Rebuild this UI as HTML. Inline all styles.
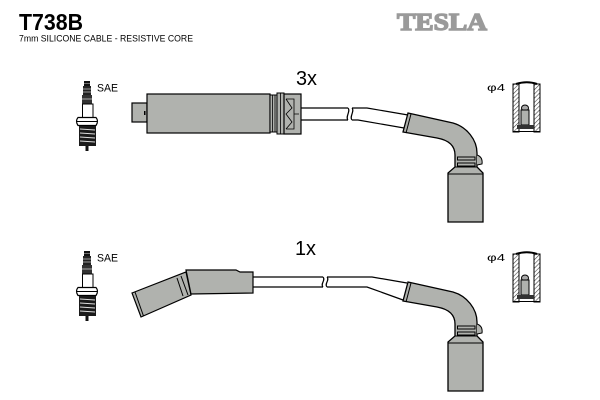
<!DOCTYPE html>
<html><head><meta charset="utf-8"><style>html,body{margin:0;padding:0;background:#fff;width:600px;height:400px;overflow:hidden}</style></head><body>
<svg width="600" height="400" viewBox="0 0 600 400" xmlns="http://www.w3.org/2000/svg">
<defs>
<pattern id="h" width="3" height="3" patternUnits="userSpaceOnUse" patternTransform="rotate(45)"><rect width="3" height="3" fill="#fff"/><line x1="0" y1="0" x2="0" y2="3" stroke="#444" stroke-width="1.2"/></pattern>
<g id="plug">
  <rect x="84" y="81" width="6" height="5" fill="#111"/>
  <line x1="84" y1="83.5" x2="90" y2="83.5" stroke="#888" stroke-width="0.8"/>
  <rect x="83" y="86" width="8" height="9" fill="#222"/>
  <line x1="83" y1="89" x2="91" y2="89" stroke="#bbb" stroke-width="0.8"/>
  <line x1="83" y1="92" x2="91" y2="92" stroke="#bbb" stroke-width="0.8"/>
  <rect x="82" y="95" width="10" height="9" fill="#333"/>
  <line x1="82" y1="99" x2="92" y2="99" stroke="#ccc" stroke-width="0.8"/>
  <rect x="82.5" y="104" width="10.5" height="13.5" fill="#fff" stroke="#000" stroke-width="1"/>
  <path d="M78,117.5 L96,117.5 Q99,121 96,125.5 L78,125.5 Q75,121 78,117.5 Z" fill="#fff" stroke="#000" stroke-width="1.2"/>
  <line x1="77" y1="121.5" x2="97" y2="121.5" stroke="#000" stroke-width="1"/>
  <rect x="79" y="126" width="17" height="20" fill="#1a1a1a"/>
  <line x1="80" y1="129" x2="95" y2="130" stroke="#ddd" stroke-width="0.9"/>
  <line x1="80" y1="133" x2="95" y2="134" stroke="#ddd" stroke-width="0.9"/>
  <line x1="80" y1="137" x2="95" y2="138" stroke="#ddd" stroke-width="0.9"/>
  <line x1="80" y1="141" x2="95" y2="142" stroke="#ddd" stroke-width="0.9"/>
  <rect x="85.5" y="146" width="3" height="5" fill="#111"/>
</g>
<g id="term">
  <rect x="513" y="84" width="6" height="48" fill="url(#h)" stroke="#000" stroke-width="1"/>
  <rect x="534" y="84" width="6" height="48" fill="url(#h)" stroke="#000" stroke-width="1"/>
  <path d="M516,84 Q527,80.5 537,84" fill="none" stroke="#000" stroke-width="2"/>
  <ellipse cx="525" cy="108" rx="3.5" ry="3" fill="#aaa" stroke="#000" stroke-width="1"/>
  <rect x="521" y="110" width="8" height="15" fill="#b0b2ae" stroke="#000" stroke-width="1"/>
  <rect x="517" y="125" width="17" height="4" fill="#333"/>
  <line x1="513" y1="131.5" x2="540" y2="131.5" stroke="#000" stroke-width="1"/>
</g>
<g id="rboot">
  <path d="M408,113 L453,123 C467,127 477,140 477,153 L477,167 L483,173 L483,222 L448,222 L448,173 L455,167 L455,155 C455,145 448,140 437,138 L403,132 Z" fill="#b0b2ae" stroke="#000" stroke-width="1.3"/>
  <line x1="411" y1="114" x2="406" y2="133" stroke="#000" stroke-width="1"/>
  <line x1="448" y1="174" x2="483" y2="174" stroke="#000" stroke-width="1"/>
  <line x1="455" y1="167" x2="477" y2="167" stroke="#000" stroke-width="1"/>
  <path d="M477,155 Q483,157 482,164 L477,165" fill="#b0b2ae" stroke="#000" stroke-width="1"/>
  <rect x="457.5" y="157" width="17.5" height="3" fill="none" stroke="#000" stroke-width="1"/>
  <rect x="457.5" y="163" width="17.5" height="3" fill="none" stroke="#000" stroke-width="1"/>
</g>
</defs>

<text x="19" y="30" font-family="Liberation Sans, sans-serif" font-weight="bold" font-size="23" textLength="64" lengthAdjust="spacingAndGlyphs">T738B</text>
<text x="19" y="41.5" font-family="Liberation Sans, sans-serif" font-size="9.5" textLength="174" lengthAdjust="spacingAndGlyphs">7mm SILICONE CABLE - RESISTIVE CORE</text>
<text x="397" y="30" font-family="Liberation Serif, serif" font-weight="bold" font-size="24" fill="#9a9a9a" stroke="#9a9a9a" stroke-width="1.4" textLength="90" lengthAdjust="spacingAndGlyphs">TESLA</text>

<!-- top set -->
<use href="#plug"/>
<text x="97" y="91.5" font-family="Liberation Sans, sans-serif" font-size="11" textLength="21" lengthAdjust="spacingAndGlyphs">SAE</text>
<text x="296" y="85" font-family="Liberation Sans, sans-serif" font-size="20" textLength="21" lengthAdjust="spacingAndGlyphs">3x</text>

<rect x="132" y="103" width="15" height="19" fill="#b0b2ae" stroke="#000" stroke-width="1.2"/>
<rect x="147" y="94" width="123" height="39" fill="#b0b2ae" stroke="#000" stroke-width="1.2"/>
<rect x="144" y="111" width="1.5" height="4" fill="#000"/>
<rect x="270" y="95" width="7" height="37" fill="#b0b2ae" stroke="#000" stroke-width="1"/>
<line x1="272.5" y1="95" x2="272.5" y2="132" stroke="#000" stroke-width="0.8"/>
<line x1="275" y1="95" x2="275" y2="132" stroke="#000" stroke-width="0.8"/>
<rect x="277" y="93" width="7" height="41" fill="#b0b2ae" stroke="#000" stroke-width="1"/>
<line x1="280.5" y1="93" x2="280.5" y2="134" stroke="#000" stroke-width="0.8"/>
<rect x="284" y="94" width="17" height="40" fill="#b0b2ae" stroke="#000" stroke-width="1.2"/>
<path d="M286,99 L294,99 L294,129 L286,129 M286,99 L292,108 L286,114 L292,122 L286,129 M294,114 L299,114" fill="none" stroke="#000" stroke-width="0.8"/>

<g fill="none" stroke="#000" stroke-width="1.2">
  <path d="M301,108 L348,108 M352,108 L367,108 L408,115"/>
  <path d="M301,120 L348,120 M352,120 L358,120 L404,128"/>
  <path d="M348,108 C351,111 345,117 348,120"/>
  <path d="M352,108 C355,111 349,117 352,120"/>
</g>
<use href="#rboot"/>
<text x="487" y="91" font-family="Liberation Sans, sans-serif" font-size="10" textLength="18" lengthAdjust="spacingAndGlyphs">φ4</text>
<use href="#term"/>

<!-- bottom set -->
<use href="#plug" transform="translate(0,170)"/>
<text x="97" y="261.5" font-family="Liberation Sans, sans-serif" font-size="11" textLength="21" lengthAdjust="spacingAndGlyphs">SAE</text>
<text x="295" y="255" font-family="Liberation Sans, sans-serif" font-size="20" textLength="21" lengthAdjust="spacingAndGlyphs">1x</text>

<path d="M132,293 L186,272 L191,295 L141,317 Z" fill="#b0b2ae" stroke="#000" stroke-width="1.2"/>
<line x1="135" y1="292" x2="143.5" y2="316" stroke="#000" stroke-width="1"/>
<line x1="177" y1="278" x2="183" y2="296" stroke="#000" stroke-width="1"/>
<line x1="181" y1="276" x2="188" y2="295" stroke="#000" stroke-width="1"/>
<path d="M186,270 L236,270 L240,272 L253,272 L253,293 L191,294 Z" fill="#b0b2ae" stroke="#000" stroke-width="1.2"/>

<g fill="none" stroke="#000" stroke-width="1.2">
  <path d="M253,277 L323,277 M327,277 L372,277 L407,283"/>
  <path d="M253,287 L323,287 M327,287 L367,287 L403,300"/>
  <path d="M323,277 C326,280 320,284 323,287"/>
  <path d="M327,277 C330,280 324,284 327,287"/>
</g>
<use href="#rboot" transform="translate(0,169)"/>
<text x="487" y="261" font-family="Liberation Sans, sans-serif" font-size="10" textLength="18" lengthAdjust="spacingAndGlyphs">φ4</text>
<use href="#term" transform="translate(0,170)"/>
</svg>
</body></html>
